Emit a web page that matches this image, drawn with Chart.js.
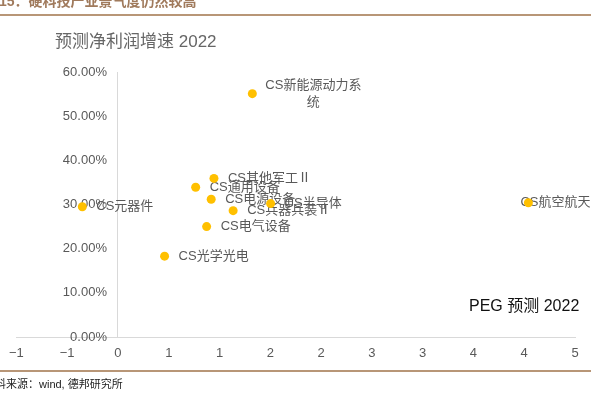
<!DOCTYPE html>
<html>
<head>
<meta charset="utf-8">
<script src="https://cdn.jsdelivr.net/npm/chart.js@4/dist/chart.umd.min.js"></script>
<style>
  html, body { margin: 0; padding: 0; background: #ffffff; }
  #wrap { width: 591px; height: 397px; position: relative; }
</style>
</head>
<body>
<div id="wrap"><canvas id="c" width="591" height="397"></canvas></div>
<script>
// ---- data ----
const categories = ['CS新能源动力系统', 'CS其他军工Ⅱ', 'CS通用设备', 'CS电源设备', 'CS半导体',
                    'CS兵器兵装Ⅱ', 'CS电气设备', 'CS光学光电', 'CS元器件', 'CS航空航天'];
const pegValues = [1.47, 1.05, 0.85, 1.02, 1.67, 1.26, 0.97, 0.51, -0.39, 4.49];
const growthValues = [55.1, 35.9, 33.9, 31.2, 30.2, 28.6, 25.0, 18.3, 29.5, 30.4];
const xTickValues = [-1.111, -0.556, 0, 0.556, 1.111, 1.667, 2.222, 2.778, 3.333, 3.889, 4.444, 5];
const xTickLabels = ['−1', '−1', '0', '1', '1', '2', '2', '3', '3', '4', '4', '5'];
const yTickValues = [0, 10, 20, 30, 40, 50, 60];
const yTickLabels = ['0.00%', '10.00%', '20.00%', '30.00%', '40.00%', '50.00%', '60.00%'];
const bannerText = '图15：硬科技产业景气度仍然较高';
const yTitle = '预测净利润增速 2022';
const xTitle = 'PEG 预测 2022';
const sourceText = '资料来源：wind, 德邦研究所';

const points = pegValues.map((x, i) => ({ x: x, y: growthValues[i] }));

// ---- label styling (positions relative to each point) ----
const labelStyle = {
  default: { dx: 14, dy: 0 },
  0: { multi: ['CS新能源动力系', '统'], dx: 13, lineDy: [-8, 9] },
  9: { dx: -8, dy: 0 }
};

const LATIN_CJK = '"Liberation Sans", "Noto Sans CJK SC", sans-serif';
const Y_LABEL_GAP = 11;

const decor = {
  id: 'decor',
  beforeDatasetsDraw(chart) {
    const ctx = chart.ctx;
    const meta = chart.getDatasetMeta(0);
    ctx.save();
    ctx.font = '13px ' + LATIN_CJK;
    ctx.fillStyle = '#595959';
    ctx.textBaseline = 'middle';
    meta.data.forEach((el, i) => {
      const st = labelStyle[i] || labelStyle.default;
      if (st.multi) {
        const w = ctx.measureText(st.multi[0]).width;
        const cx = el.x + st.dx + w / 2;
        ctx.textAlign = 'center';
        st.multi.forEach((line, k) => ctx.fillText(line, cx, el.y + st.lineDy[k]));
      } else {
        ctx.textAlign = 'left';
        ctx.fillText(categories[i], el.x + st.dx, el.y + st.dy);
      }
    });
    ctx.restore();
  },
  afterDraw(chart) {
    const ctx = chart.ctx;
    ctx.save();
    // banner
    ctx.font = 'bold 14px ' + LATIN_CJK;
    ctx.fillStyle = '#A07A5C';
    ctx.textBaseline = 'alphabetic';
    ctx.textAlign = 'left';
    const preW = ctx.measureText('图').width;
    ctx.fillText(bannerText, -preW - 1, 6);
    // lines
    ctx.strokeStyle = '#B89677';
    ctx.lineWidth = 2;
    ctx.beginPath(); ctx.moveTo(0, 15); ctx.lineTo(591, 15); ctx.stroke();
    ctx.beginPath(); ctx.moveTo(0, 371); ctx.lineTo(591, 371); ctx.stroke();
    // y title
    ctx.font = '17px ' + LATIN_CJK;
    ctx.fillStyle = '#666666';
    ctx.textBaseline = 'middle';
    ctx.fillText(yTitle, 55, 42);
    // x title
    ctx.font = '16px ' + LATIN_CJK;
    ctx.fillStyle = '#111111';
    ctx.fillText(xTitle, 469, 307);
    // source
    ctx.font = '11px ' + LATIN_CJK;
    ctx.fillStyle = '#222222';
    ctx.fillText(sourceText, -16, 385);
    ctx.restore();
  }
};

new Chart(document.getElementById('c'), {
  type: 'scatter',
  data: {
    datasets: [{
      data: points,
      backgroundColor: '#FFC000',
      borderWidth: 0,
      pointRadius: 4.5,
      pointHoverRadius: 4.5
    }]
  },
  options: {
    responsive: false,
    animation: false,
    devicePixelRatio: 1,
    events: [],
    layout: { padding: { left: 16, right: 16, top: 72, bottom: 40 } },
    plugins: { legend: { display: false }, tooltip: { enabled: false } },
    scales: {
      x: {
        type: 'linear',
        min: xTickValues[0],
        max: xTickValues[xTickValues.length - 1],
        afterBuildTicks: (s) => { s.ticks = xTickValues.map(v => ({ value: v })); },
        afterFit: (s) => { s.height = 20; },
        ticks: {
          autoSkip: false, maxRotation: 0, padding: 9,
          color: '#595959',
          font: { family: 'Liberation Sans', size: 13 },
          callback: (v, i) => xTickLabels[i]
        },
        grid: { display: false, drawTicks: false },
        border: { display: true, color: '#D9D9D9', width: 1 }
      },
      y: {
        type: 'linear',
        position: { x: 0 },
        min: 0, max: 60,
        afterBuildTicks: (s) => { s.ticks = yTickValues.map(v => ({ value: v })); },
        afterFit: (s) => { s.width = 0; },
        afterUpdate: (s) => {
          if (s._gapPatched) return;
          s._gapPatched = true;
          const orig = s._computeLabelItems;
          s._computeLabelItems = function (ca) {
            const items = orig.call(this, ca);
            items.forEach(it => { it.options.translation[0] -= Y_LABEL_GAP; });
            return items;
          };
        },
        ticks: {
          padding: 0,
          color: '#595959',
          font: { family: 'Liberation Sans', size: 13 },
          callback: (v, i) => yTickLabels[i]
        },
        grid: { display: false, drawTicks: false },
        border: { display: true, color: '#D9D9D9', width: 1 }
      }
    }
  },
  plugins: [decor]
});
</script>
</body>
</html>
